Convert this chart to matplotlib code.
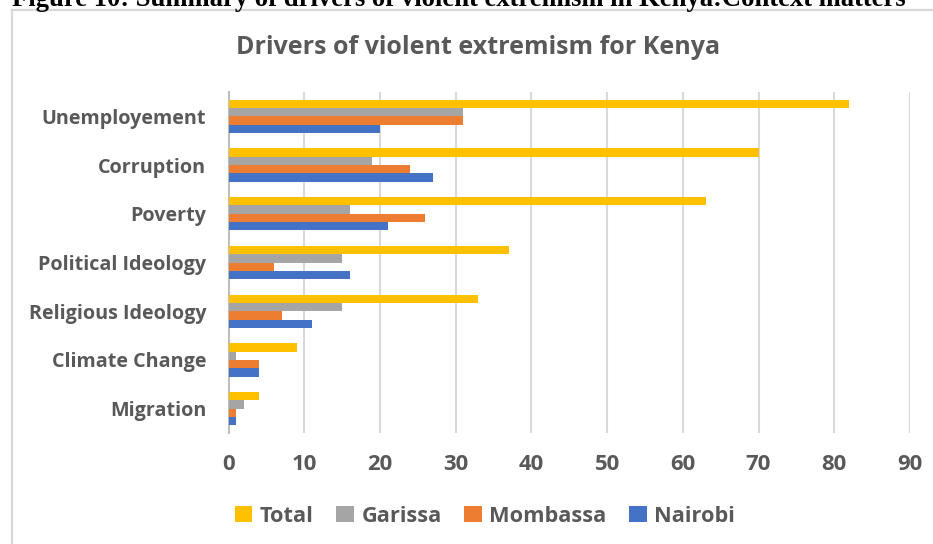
import matplotlib
matplotlib.use("Agg")
import matplotlib.pyplot as plt
from matplotlib.patches import Rectangle, Patch
import numpy as np

categories = ["Unemployement", "Corruption", "Poverty", "Political Ideology",
              "Religious Ideology", "Climate Change", "Migration"]
total = [82, 70, 63, 37, 33, 9, 4]
garissa = [31, 19, 16, 15, 15, 1, 2]
mombassa = [31, 24, 26, 6, 7, 4, 1]
nairobi = [20, 27, 21, 16, 11, 4, 1]
series_names = ["Total", "Garissa", "Mombassa", "Nairobi"]
colors = ["#FFC000", "#A5A5A5", "#ED7D31", "#4472C4"]
xticks = [0, 10, 20, 30, 40, 50, 60, 70, 80, 90]

FONT = "Open Sans"
W, H = 933, 544
fig = plt.figure(figsize=(W / 100, H / 100), dpi=100)
fig.patch.set_facecolor("white")
renderer = fig.canvas.get_renderer()

def fx(px):
    return px / W

def fy(py):
    return 1 - py / H

def fit(txt, target_px):
    w = txt.get_window_extent(renderer=renderer).width
    txt.set_fontsize(txt.get_fontsize() * target_px / w)

# chart frame
frame = Rectangle((fx(12), fy(600)), fx(1000), fy(10) - fy(600), transform=fig.transFigure,
                  fill=False, edgecolor="#d9d9d9", linewidth=1.6, clip_on=False)
fig.patches.append(frame)

# caption (partially cropped at top, as in the source)
cap = fig.text(fx(12), fy(6), "Figure 10: Summary of drivers of violent extremism in Kenya:Context matters",
               family="Liberation Serif", weight="bold", fontsize=17.5, color="black",
               ha="left", va="baseline")
fit(cap, 891)

# title
ttl = fig.text(fx(478), fy(47), "Drivers of violent extremism for Kenya", family=FONT,
               weight="bold", fontsize=17, color="#595959", ha="center", va="center")
fit(ttl, 483)

ax = fig.add_axes([fx(228.5), fy(433), fx(910) - fx(228.5), fy(92) - fy(433)])
y = np.arange(len(categories))
h = 0.171
data = [total, garissa, mombassa, nairobi]
offsets = [-1.5 * h, -0.5 * h, 0.5 * h, 1.5 * h]
for vals, off, c, name in zip(data, offsets, colors, series_names):
    ax.barh(y + off, vals, height=h, color=c, label=name, zorder=3)

ax.set_xlim(0, 90)
ax.set_ylim(len(categories) - 0.5, -0.5)
ax.set_xticks(xticks)
ax.set_xticklabels([str(t) for t in xticks])
ax.set_yticks(y)
ax.set_yticklabels(categories)
ax.grid(axis="x", color="#d9d9d9", linewidth=1.5, zorder=0)
ax.set_axisbelow(True)
for s in ["top", "right", "bottom"]:
    ax.spines[s].set_visible(False)
ax.spines["left"].set_color("#bfbfbf")
ax.spines["left"].set_linewidth(1.5)
ax.tick_params(axis="both", length=0)
ax.tick_params(axis="x", pad=15)
ax.tick_params(axis="y", pad=16)

# size category labels so that "Unemployement" is ~165 px wide
probe = fig.text(0, 0, categories[0], family=FONT, weight="bold", fontsize=15)
fit(probe, 165)
lab_size = probe.get_fontsize()
probe.remove()

for lab in ax.get_xticklabels():
    lab.set_family(FONT); lab.set_weight("bold"); lab.set_fontsize(lab_size * 1.12); lab.set_color("#595959")
for lab in ax.get_yticklabels():
    lab.set_family(FONT); lab.set_weight("bold"); lab.set_fontsize(lab_size); lab.set_color("#595959")

handles = [Patch(facecolor=c, edgecolor="none") for c in colors]
leg = fig.legend(handles, series_names, loc="center", bbox_to_anchor=(fx(485), fy(516)),
                 ncol=4, frameon=False, handlelength=0.8, handleheight=0.8,
                 handletextpad=0.35, columnspacing=1.05,
                 prop={"family": FONT, "weight": "bold", "size": lab_size * 1.1})
for t in leg.get_texts():
    t.set_color("#595959")

fig.savefig("out.png", dpi=100, facecolor="white")
